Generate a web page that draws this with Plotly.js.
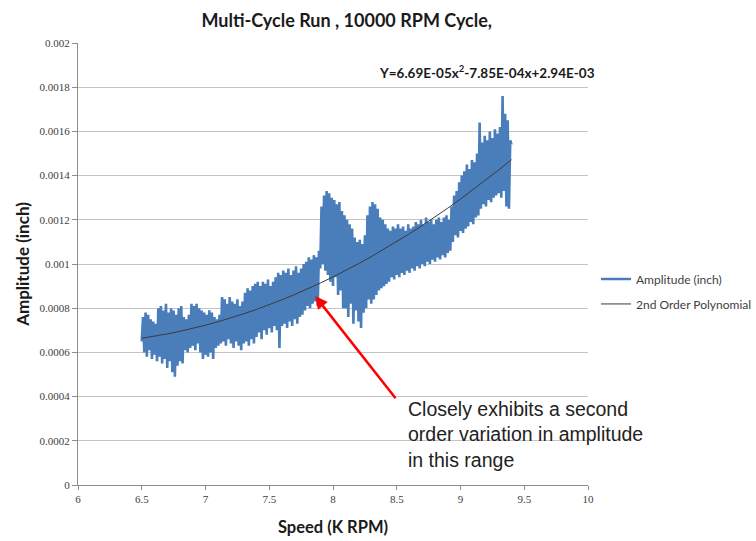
<!DOCTYPE html>
<html>
<head>
<meta charset="utf-8">
<script src="https://cdn.plot.ly/plotly-3.0.1.min.js"></script>
<style>html,body{margin:0;padding:0;background:#fff;}#chart{width:756px;height:541px;}</style>
</head>
<body>
<div id="chart"></div>
<script>
// Speed (K RPM) samples of the measured run
var speed = [
6.50,6.51,6.52,6.53,6.54,6.55,6.56,6.57,6.58,6.59,
6.60,6.61,6.62,6.63,6.64,6.65,6.66,6.67,6.68,6.69,
6.70,6.71,6.72,6.73,6.74,6.75,6.76,6.77,6.78,6.79,
6.80,6.81,6.82,6.83,6.84,6.85,6.86,6.87,6.88,6.89,
6.90,6.91,6.92,6.93,6.94,6.95,6.96,6.97,6.98,6.99,
7.00,7.01,7.02,7.03,7.04,7.05,7.06,7.07,7.08,7.09,
7.10,7.11,7.12,7.13,7.14,7.15,7.16,7.17,7.18,7.19,
7.20,7.21,7.22,7.23,7.24,7.25,7.26,7.27,7.28,7.29,
7.30,7.31,7.32,7.33,7.34,7.35,7.36,7.37,7.38,7.39,
7.40,7.41,7.42,7.43,7.44,7.45,7.46,7.47,7.48,7.49,
7.50,7.51,7.52,7.53,7.54,7.55,7.56,7.57,7.58,7.59,
7.60,7.61,7.62,7.63,7.64,7.65,7.66,7.67,7.68,7.69,
7.70,7.71,7.72,7.73,7.74,7.75,7.76,7.77,7.78,7.79,
7.80,7.81,7.82,7.83,7.84,7.85,7.86,7.87,7.88,7.89,
7.90,7.91,7.92,7.93,7.94,7.95,7.96,7.97,7.98,7.99,
8.00,8.01,8.02,8.03,8.04,8.05,8.06,8.07,8.08,8.09,
8.10,8.11,8.12,8.13,8.14,8.15,8.16,8.17,8.18,8.19,
8.20,8.21,8.22,8.23,8.24,8.25,8.26,8.27,8.28,8.29,
8.30,8.31,8.32,8.33,8.34,8.35,8.36,8.37,8.38,8.39,
8.40,8.41,8.42,8.43,8.44,8.45,8.46,8.47,8.48,8.49,
8.50,8.51,8.52,8.53,8.54,8.55,8.56,8.57,8.58,8.59,
8.60,8.61,8.62,8.63,8.64,8.65,8.66,8.67,8.68,8.69,
8.70,8.71,8.72,8.73,8.74,8.75,8.76,8.77,8.78,8.79,
8.80,8.81,8.82,8.83,8.84,8.85,8.86,8.87,8.88,8.89,
8.90,8.91,8.92,8.93,8.94,8.95,8.96,8.97,8.98,8.99,
9.00,9.01,9.02,9.03,9.04,9.05,9.06,9.07,9.08,9.09,
9.10,9.11,9.12,9.13,9.14,9.15,9.16,9.17,9.18,9.19,
9.20,9.21,9.22,9.23,9.24,9.25,9.26,9.27,9.28,9.29,
9.30,9.31,9.32,9.33,9.34,9.35,9.36,9.37,9.38,9.39,
9.40
];

// Amplitude (inch)
var amplitude = [
0.00065,0.00076,0.00060,0.00078,0.00058,0.00077,0.00061,0.00075,0.00057,0.00074,
0.00059,0.00073,0.00056,0.00080,0.00058,0.00081,0.00055,0.00079,0.00057,0.00082,
0.00053,0.00078,0.00056,0.00080,0.00051,0.00079,0.00049,0.00077,0.00054,0.00080,
0.00056,0.00081,0.00055,0.00076,0.00061,0.00075,0.00060,0.00077,0.00062,0.00082,
0.00063,0.00081,0.00061,0.00082,0.00064,0.00080,0.00060,0.00079,0.00057,0.00078,
0.00059,0.00077,0.00058,0.00079,0.00060,0.00078,0.00057,0.00076,0.00062,0.00075,
0.00063,0.00077,0.00064,0.00085,0.00065,0.00084,0.00063,0.00082,0.00066,0.00085,
0.00064,0.00083,0.00062,0.00082,0.00065,0.00084,0.00063,0.00081,0.00061,0.00083,
0.00064,0.00087,0.00065,0.00089,0.00063,0.00088,0.00066,0.00090,0.00064,0.00091,
0.00067,0.00092,0.00069,0.00090,0.00066,0.00092,0.00070,0.00091,0.00068,0.00093,
0.00071,0.00090,0.00069,0.00092,0.00072,0.00094,0.00070,0.00096,0.00062,0.00095,
0.00072,0.00097,0.00073,0.00096,0.00071,0.00098,0.00074,0.00095,0.00072,0.00097,
0.00075,0.00099,0.00073,0.00096,0.00076,0.00098,0.00077,0.00100,0.00079,0.00101,
0.00081,0.00103,0.00080,0.00102,0.00082,0.00104,0.00083,0.00103,0.00081,0.00106,
0.00098,0.00126,0.00100,0.00131,0.00097,0.00133,0.00095,0.00132,0.00092,0.00130,
0.00090,0.00129,0.00094,0.00127,0.00086,0.00128,0.00088,0.00124,0.00080,0.00122,
0.00080,0.00120,0.00076,0.00118,0.00082,0.00116,0.00073,0.00112,0.00079,0.00110,
0.00074,0.00111,0.00071,0.00109,0.00078,0.00113,0.00080,0.00122,0.00084,0.00126,
0.00082,0.00128,0.00084,0.00127,0.00086,0.00125,0.00088,0.00121,0.00089,0.00120,
0.00090,0.00118,0.00091,0.00116,0.00092,0.00115,0.00094,0.00117,0.00093,0.00116,
0.00095,0.00118,0.00094,0.00116,0.00096,0.00117,0.00095,0.00115,0.00097,0.00118,
0.00096,0.00116,0.00098,0.00117,0.00097,0.00119,0.00099,0.00118,0.00098,0.00120,
0.00100,0.00118,0.00099,0.00121,0.00101,0.00119,0.00100,0.00120,0.00102,0.00118,
0.00101,0.00120,0.00103,0.00121,0.00102,0.00119,0.00104,0.00121,0.00103,0.00122,
0.00105,0.00120,0.00106,0.00126,0.00110,0.00131,0.00113,0.00133,0.00112,0.00137,
0.00115,0.00140,0.00114,0.00142,0.00116,0.00145,0.00117,0.00143,0.00119,0.00147,
0.00118,0.00146,0.00121,0.00150,0.00122,0.00164,0.00125,0.00155,0.00127,0.00158,
0.00126,0.00156,0.00129,0.00160,0.00128,0.00157,0.00130,0.00161,0.00131,0.00159,
0.00132,0.00162,0.00130,0.00176,0.00133,0.00168,0.00126,0.00165,0.00125,0.00156,
0.00154
];

// 2nd order polynomial trendline
var trendSpeed = [6.5,6.6,6.7,6.8,6.9,7.0,7.1,7.2,7.3,7.4,7.5,7.6,7.7,7.8,7.9,8.0,8.1,8.2,8.3,8.4,8.5,8.6,8.7,8.8,8.9,9.0,9.1,9.2,9.3,9.4];
var trendAmplitude = [0.0006640,0.0006732,0.0006836,0.0006955,0.0007086,0.0007231,0.0007389,0.0007561,0.0007746,0.0007944,
0.0008156,0.0008381,0.0008620,0.0008872,0.0009137,0.0009416,0.0009708,0.0010014,0.0010332,0.0010665,
0.0011010,0.0011369,0.0011742,0.0012127,0.0012526,0.0012939,0.0013365,0.0013804,0.0014257,0.0014723];

var xTickVals = [6,6.5,7,7.5,8,8.5,9,9.5,10];
var xTickText = ["6","6.5","7","7.5","8","8.5","9","9.5","10"];
var yTickVals = [0,0.0002,0.0004,0.0006,0.0008,0.001,0.0012,0.0014,0.0016,0.0018,0.002];
var yTickText = ["0","0.0002","0.0004","0.0006","0.0008","0.001","0.0012","0.0014","0.0016","0.0018","0.002"];

var titleText = "Multi-Cycle Run , 10000 RPM Cycle,";
var equationText = "Y=6.69E-05x<sup>2</sup>-7.85E-04x+2.94E-03";
var noteText = "Closely exhibits a second<br>order variation in amplitude<br>in this range";

var traces = [
  {x: speed, y: amplitude, type: "scatter", mode: "lines", name: "Amplitude (inch)", legendgroup: "a",
   line: {color: "#4a7ebb", width: 2.6}},
  {x: trendSpeed, y: trendAmplitude, type: "scatter", mode: "lines", name: "2nd Order Polynomial", legendgroup: "b",
   line: {color: "#3a3a3a", width: 1}}
];

var tickFont = {family: "Liberation Serif, serif", size: 11, color: "#404040"};

var layout = {
  width: 756, height: 541,
  margin: {l: 78, r: 168, t: 43, b: 56, autoexpand: false},
  paper_bgcolor: "#ffffff", plot_bgcolor: "#ffffff",
  title: {text: titleText, font: {family: "Lato, sans-serif", size: 18, color: "#1a1a1a", weight: "bold"},
          x: 0.527, xref: "paper", xanchor: "center", y: 0.962, yref: "container", yanchor: "middle"},
  xaxis: {range: [6, 10], tickvals: xTickVals, ticktext: xTickText, tickfont: tickFont,
          showgrid: false, zeroline: false, showline: true, linecolor: "#8c8c8c", linewidth: 1,
          ticks: "outside", ticklen: 4, tickcolor: "#8c8c8c",
          title: {text: "Speed (K RPM)", font: {family: "Lato, sans-serif", size: 16.5, color: "#1a1a1a", weight: "bold"}, standoff: 17},
          automargin: false},
  yaxis: {range: [0, 0.002], tickvals: yTickVals, ticktext: yTickText, tickfont: tickFont,
          showgrid: true, gridcolor: "#c4c4c4", gridwidth: 1, zeroline: false,
          showline: true, linecolor: "#8c8c8c", linewidth: 1,
          ticks: "outside", ticklen: 5, tickcolor: "#8c8c8c",
          title: {text: "Amplitude (inch)", font: {family: "Lato, sans-serif", size: 17, color: "#1a1a1a", weight: "bold"}, standoff: 5},
          automargin: false},
  showlegend: true,
  legend: {x: 1.0157, xanchor: "left", y: 0.499, yanchor: "top", bgcolor: "rgba(0,0,0,0)",
           traceorder: "grouped", tracegroupgap: 6,
           font: {family: "Lato, sans-serif", size: 12, color: "#404040"}, itemwidth: 30},
  annotations: [
    {xref: "paper", yref: "paper", x: 1.018, y: 0.935, xanchor: "right", yanchor: "middle",
     text: equationText, showarrow: false,
     font: {family: "Lato, sans-serif", size: 13.5, color: "#1a1a1a", weight: "bold"}},
    {xref: "x", yref: "y", x: 7.86, y: 0.000855, axref: "x", ayref: "y", ax: 8.5, ay: 0.000386,
     text: "", showarrow: true, arrowhead: 2, arrowsize: 1, arrowwidth: 2.5, arrowcolor: "#ff0000"},
    {xref: "x", yref: "y", x: 8.575, y: 0.000405, xanchor: "left", yanchor: "top", align: "left",
     text: noteText, showarrow: false,
     font: {family: "Liberation Sans, Arial, sans-serif", size: 19.5, color: "#222222"}}
  ]
};

Plotly.newPlot("chart", traces, layout, {displayModeBar: false, staticPlot: true});
</script>
</body>
</html>
